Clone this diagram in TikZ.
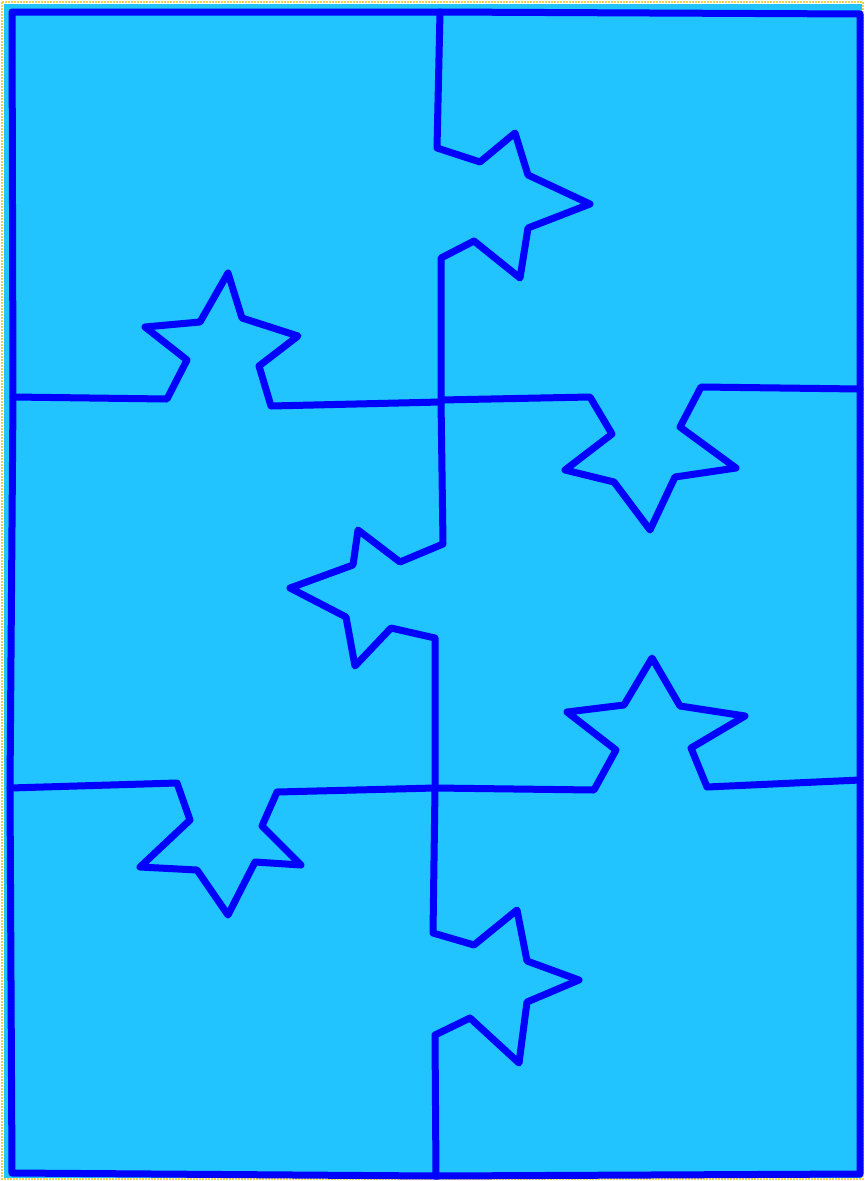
\documentclass[tikz,border=0pt]{standalone}
\usepackage{tikz}

\definecolor{pieceblue}{RGB}{34,196,255}
\definecolor{edgeblue}{RGB}{0,0,255}
\definecolor{framegold}{RGB}{240,210,80}

\tikzset{
  seam/.style={draw=edgeblue, line width=7pt, line join=round, line cap=round},
}

\begin{document}
\begin{tikzpicture}[x=1pt, y=-1pt]
  \useasboundingbox (0,0) rectangle (865,1181);

  % Board background
  \fill[pieceblue] (4,4) rectangle (862,1178);
  \draw[framegold, densely dotted, line width=2pt] (2,2) rectangle (863,1179);

  % Outer border
  \draw[seam] (12,12) -- (440,12) -- (860,14) -- (860,389) -- (860,780)
    -- (860,1174) -- (436,1176) -- (12,1173) -- (10,788) -- (13,397) -- cycle;

  % Vertical seam, top
  \draw[seam] (440,12) -- (437,148) -- (480,162) -- (515,133) -- (528,175)
    -- (590,204) -- (528,228) -- (520,278) -- (474,241) -- (441,258) -- (441,400);

  % Horizontal seam, upper left
  \draw[seam] (13,397) -- (167,399) -- (187,360) -- (145,327) -- (200,322)
    -- (228,273) -- (242,318) -- (298,336) -- (259,366) -- (271,406) -- (441,402);

  % Horizontal seam, upper right
  \draw[seam] (441,400) -- (590,397) -- (612,434) -- (565,470) -- (614,482)
    -- (650,530) -- (675,477) -- (736,468) -- (680,427) -- (701,387) -- (860,389);

  % Vertical seam, middle
  \draw[seam] (441,400) -- (443,544) -- (400,562) -- (358,530) -- (353,565)
    -- (290,588) -- (346,617) -- (355,666) -- (391,628) -- (435,638) -- (435,788);

  % Horizontal seam, lower left
  \draw[seam] (10,788) -- (177,783) -- (190,820) -- (140,867) -- (197,870)
    -- (228,915) -- (255,862) -- (301,865) -- (262,826) -- (277,792) -- (435,788);

  % Horizontal seam, lower right
  \draw[seam] (435,788) -- (594,790) -- (616,750) -- (567,712) -- (624,705)
    -- (652,658) -- (680,706) -- (745,716) -- (691,748) -- (707,787) -- (860,780);

  % Vertical seam, bottom
  \draw[seam] (435,788) -- (433,933) -- (474,945) -- (517,910) -- (527,961)
    -- (579,980) -- (527,1002) -- (519,1063) -- (470,1018) -- (435,1035) -- (436,1176);
\end{tikzpicture}
\end{document}
